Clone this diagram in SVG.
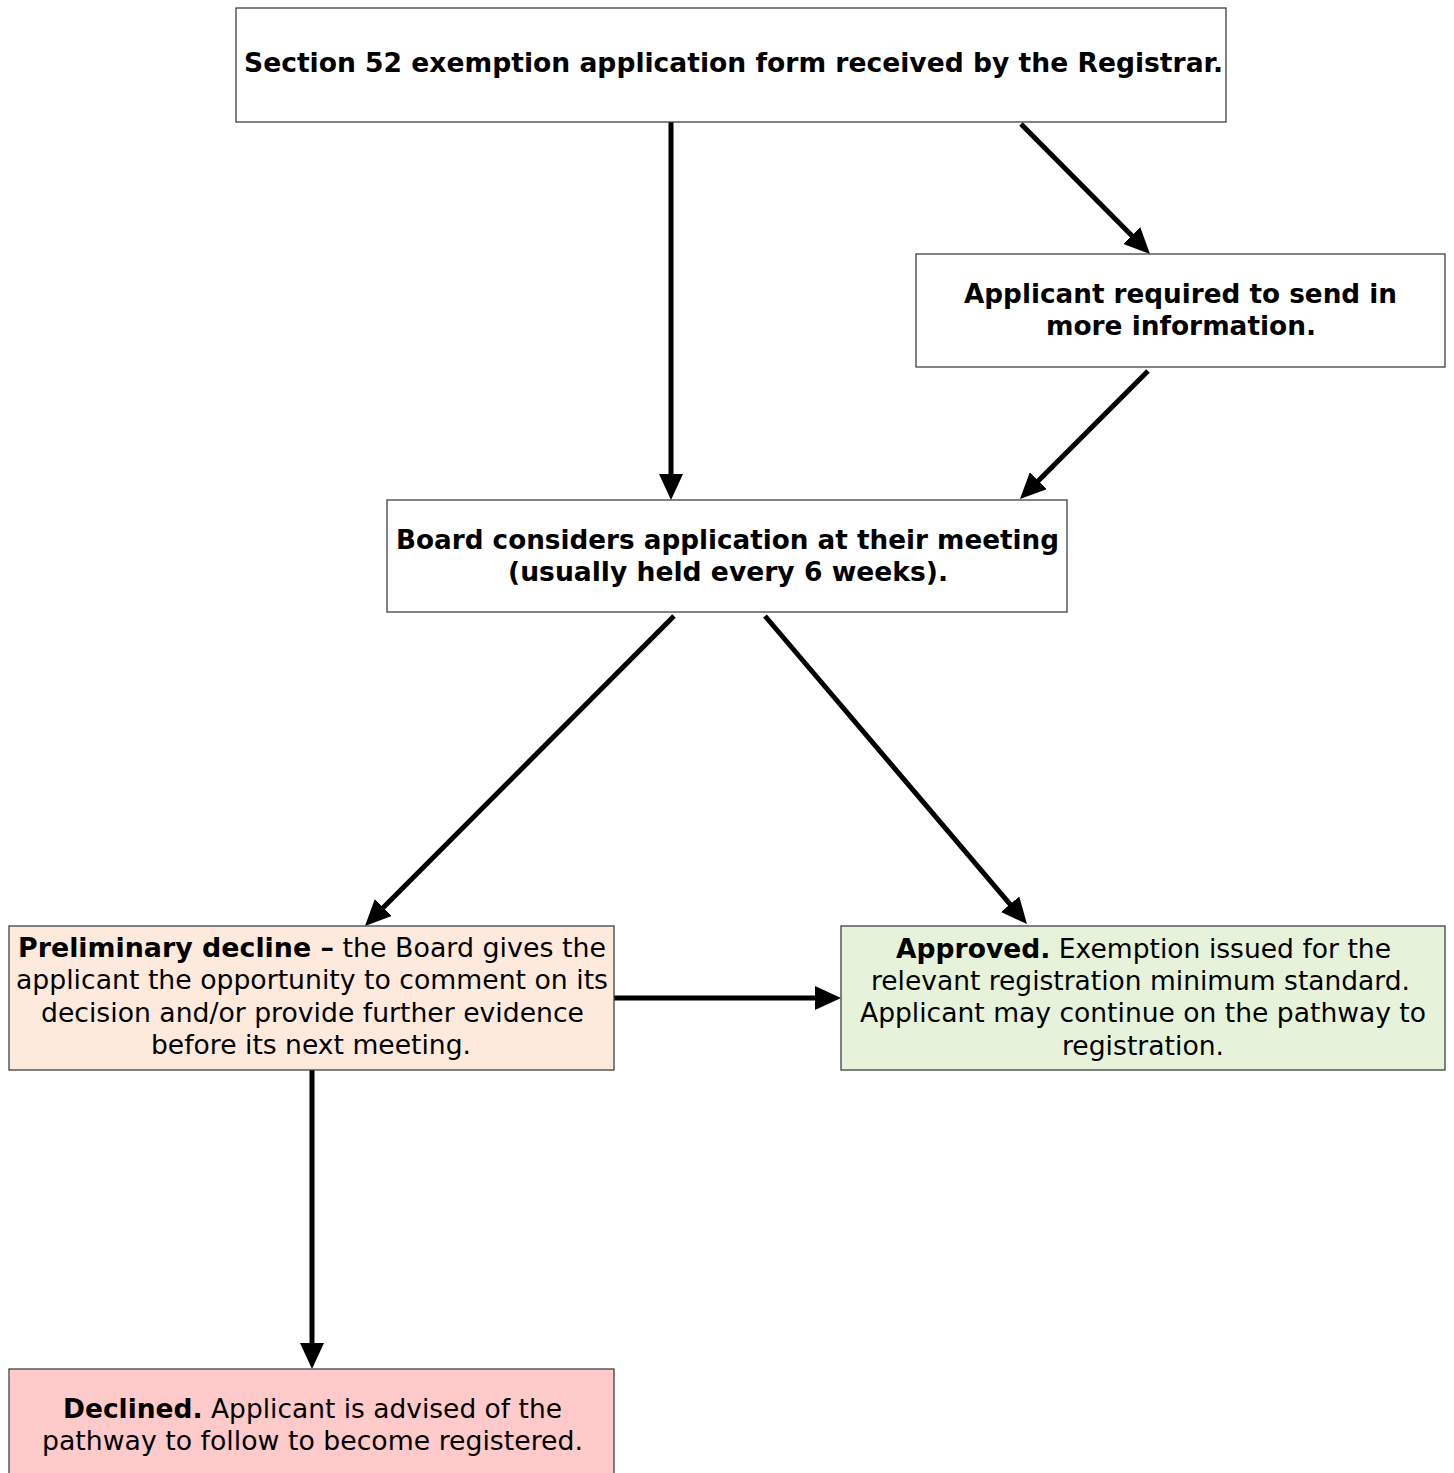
<svg xmlns="http://www.w3.org/2000/svg" width="1454" height="1473" viewBox="0 0 1454 1473">
<style>
.box{stroke:#404040;stroke-width:1.3}
.t{font-family:"DejaVu Sans","Liberation Sans",sans-serif;font-size:26px;fill:#000;text-anchor:middle}
.b{font-weight:bold}
.c{stroke:#000;stroke-width:5;fill:none;marker-end:url(#ah)}
</style>
<defs>
<marker id="ah" markerUnits="userSpaceOnUse" viewBox="0 0 26 24" markerWidth="26" markerHeight="24" refX="6" refY="12" orient="auto">
<path d="M0,0 L26,12 L0,24 z" fill="#000"/>
</marker>
</defs>
<rect width="1454" height="1473" fill="#fff"/>
<g id="connectors">
<line class="c" x1="671" y1="122" x2="671" y2="480"/>
<line class="c" x1="1021" y1="124" x2="1135.9" y2="239.8"/>
<line class="c" x1="1148" y1="371" x2="1034.1" y2="484.9"/>
<line class="c" x1="674" y1="616" x2="379.1" y2="911.8"/>
<line class="c" x1="765" y1="616" x2="1014" y2="908.8"/>
<line class="c" x1="614" y1="998" x2="821" y2="998"/>
<line class="c" x1="312" y1="1070" x2="312" y2="1349"/>
</g>
<g id="n_received">
<rect class="box" x="236" y="8" width="990" height="114" fill="#fff"/>
<text class="t b" x="733.5" y="72" textLength="979" lengthAdjust="spacingAndGlyphs">Section 52 exemption application form received by the Registrar.</text>
</g>
<g id="n_moreinfo">
<rect class="box" x="916" y="254" width="529" height="113" fill="#fff"/>
<text class="t b" x="1180.5" y="303" textLength="433" lengthAdjust="spacingAndGlyphs">Applicant required to send in</text>
<text class="t b" x="1181" y="335" textLength="270" lengthAdjust="spacingAndGlyphs">more information.</text>
</g>
<g id="n_board">
<rect class="box" x="387" y="500" width="680" height="112" fill="#fff"/>
<text class="t b" x="727.5" y="549" textLength="663" lengthAdjust="spacingAndGlyphs">Board considers application at their meeting</text>
<text class="t b" x="728" y="581" textLength="440" lengthAdjust="spacingAndGlyphs">(usually held every 6 weeks).</text>
</g>
<g id="n_prelim">
<rect class="box" x="9" y="926" width="605" height="144" fill="#fdeadc"/>
<text class="t" x="312" y="957" textLength="588" lengthAdjust="spacingAndGlyphs"><tspan class="b">Preliminary decline –</tspan> the Board gives the</text>
<text class="t" x="312" y="989" textLength="592" lengthAdjust="spacingAndGlyphs">applicant the opportunity to comment on its</text>
<text class="t" x="312.5" y="1022" textLength="543" lengthAdjust="spacingAndGlyphs">decision and/or provide further evidence</text>
<text class="t" x="311" y="1054" textLength="320" lengthAdjust="spacingAndGlyphs">before its next meeting.</text>
</g>
<g id="n_approved">
<rect class="box" x="841" y="926" width="604" height="144" fill="#e6f3da"/>
<text class="t" x="1143.5" y="958" textLength="495" lengthAdjust="spacingAndGlyphs"><tspan class="b">Approved.</tspan> Exemption issued for the</text>
<text class="t" x="1140.5" y="990" textLength="539" lengthAdjust="spacingAndGlyphs">relevant registration minimum standard.</text>
<text class="t" x="1143" y="1022" textLength="566" lengthAdjust="spacingAndGlyphs">Applicant may continue on the pathway to</text>
<text class="t" x="1143" y="1055" textLength="162" lengthAdjust="spacingAndGlyphs">registration.</text>
</g>
<g id="n_declined">
<rect class="box" x="9" y="1369" width="605" height="120" fill="#ffcaca"/>
<text class="t" x="312.5" y="1418" textLength="499" lengthAdjust="spacingAndGlyphs"><tspan class="b">Declined.</tspan> Applicant is advised of the</text>
<text class="t" x="312.5" y="1450" textLength="541" lengthAdjust="spacingAndGlyphs">pathway to follow to become registered.</text>
</g>
</svg>
